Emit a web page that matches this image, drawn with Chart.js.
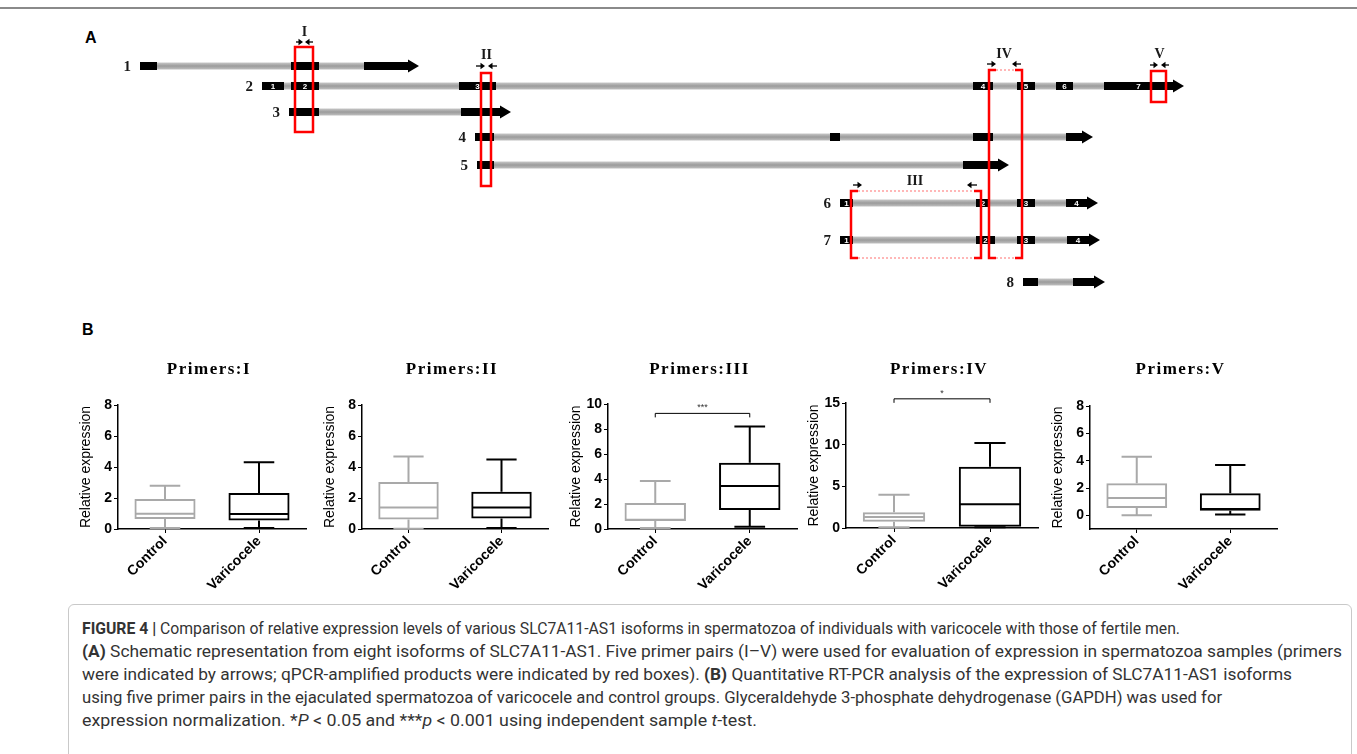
<!DOCTYPE html>
<html>
<head>
<meta charset="utf-8">
<script src="https://cdn.jsdelivr.net/npm/chart.js@4.4.1/dist/chart.umd.min.js"></script>
<style>
  html, body { margin: 0; padding: 0; background: #fff; }
  body { width: 1357px; height: 754px; position: relative; overflow: hidden; font-family: "Liberation Sans", Arial, sans-serif; }
  .abs { position: absolute; }
  #topRule { left: 0; top: 7px; width: 1357px; height: 2px; background: #8a8a8a; }
  .panelTag { font-weight: bold; font-size: 16px; color: #000; line-height: 16px; }
  #caption {
    left: 68px; top: 604px; width: 1284px; height: 170px;
    border: 1px solid #c9c9c9; border-radius: 6px; box-sizing: border-box;
    padding: 12px 0 0 13px;
    font-family: "Roboto", sans-serif;
    font-size: 16px; line-height: 23px; color: #333;
  }
  #caption .ln { display: block; width: max-content; white-space: nowrap; transform-origin: 0 50%; }
</style>
</head>
<body>
<div id="topRule" class="abs"></div>
<div class="abs panelTag" style="left:85px;top:30px;">A</div>
<div class="abs panelTag" style="left:82px;top:322px;">B</div>
<canvas id="schemeCanvas" class="abs" width="1357" height="300" style="left:0;top:0;width:1357px;height:300px;"></canvas>
<div id="caption" class="abs">
<span class="ln"><b>FIGURE 4 |</b> Comparison of relative expression levels of various SLC7A11-AS1 isoforms in spermatozoa of individuals with varicocele with those of fertile men.</span>
<span class="ln"><b>(A)</b> Schematic representation from eight isoforms of SLC7A11-AS1. Five primer pairs (I–V) were used for evaluation of expression in spermatozoa samples (primers</span>
<span class="ln">were indicated by arrows; qPCR-amplified products were indicated by red boxes). <b>(B)</b> Quantitative RT-PCR analysis of the expression of SLC7A11-AS1 isoforms</span>
<span class="ln">using five primer pairs in the ejaculated spermatozoa of varicocele and control groups. Glyceraldehyde 3-phosphate dehydrogenase (GAPDH) was used for</span>
<span class="ln">expression normalization. *<i>P</i> &lt; 0.05 and ***<i>p</i> &lt; 0.001 using independent sample <i>t</i>-test.</span>
</div>

<script>
// ---- panel A: isoforms (position along the locus, track row) ----
const isoformIds = ['1', '2', '3', '4', '5', '6', '7', '8'];
const isoformTrack = [66, 86, 112, 137, 165, 203, 240, 282];
const isoformStart = [140, 262, 289, 475, 477, 840, 840, 1023];
const isoformTail = [364, 1104, 461, 1066, 963, 1066, 1067, 1073];
const isoformTip = [419, 1184, 511, 1093, 1009, 1098, 1100, 1105];
const isoformExons = [
    [[140, 157], [291, 319]],
    [[262, 284], [291, 319], [459, 496], [973, 993], [1017, 1035], [1056, 1073]],
    [[289, 319]],
    [[475, 494], [830, 840], [973, 993]],
    [[477, 494]],
    [[840, 853], [976, 990], [1017, 1035]],
    [[840, 853], [976, 995], [1017, 1035]],
    [[1023, 1038]]
];
// exon numbers; the one past the last exon sits on the arrow tail
const exonNumbers = [[], ['1', '2', '3', '4', '5', '6', '7'], [], [], [], ['1', '2', '3', '4'], ['1', '2', '3', '4'], []];

// ---- panel A: primer pairs and amplified products ----
const primerNames = ['I', 'II', 'III', 'IV', 'V'];
const primerFrom = [295, 481, 851, 989, 1151];
const primerTo = [313, 491, 981, 1022, 1166];
const primerTop = [47, 73, 191, 70, 71];
const primerBottom = [132, 186, 258, 258, 102];
const primerDotted = [false, false, true, true, false];
const primerLabelY = [32, 55, 181, 54, 54];
const primerArrowY = [42, 66, 185, 64, 65];
const primerFwd = [[296, 303], [476, 485], [853, 862], [987, 996], [1150, 1158]];
const primerRev = [[313, 305], [497, 488], [977, 967], [1021, 1012], [1169, 1161]];

// ---- panel B: box plots (relative expression) ----
const groups = ['Control', 'Varicocele'];
const boxMin = [[0.06, 0.06], [0.02, 0.06], [0.08, 0.19], [0.08, 0.1], [0.0, 0.07]];
const boxQ1 = [[0.65, 0.55], [0.62, 0.67], [0.65, 1.52], [0.76, 0.15], [0.53, 0.34]];
const boxMedian = [[0.98, 0.96], [1.39, 1.39], [0.75, 3.44], [1.32, 2.84], [1.26, 0.46]];
const boxQ3 = [[1.94, 2.33], [3.03, 2.4], [2.08, 5.31], [1.88, 7.36], [2.35, 1.62]];
const boxMax = [[2.79, 4.3], [4.68, 4.48], [3.84, 8.21], [4.0, 10.2], [4.29, 3.68]];
const axisMin = [0, 0, 0, 0, -1];
const axisMax = [8, 8, 10, 15, 8];
const yTicks = [[0, 2, 4, 6, 8], [0, 2, 4, 6, 8], [0, 2, 4, 6, 8, 10], [0, 5, 10, 15], [0, 2, 4, 6, 8]];
const sigText = [null, null, '***', '*', null];
const sigLevel = [null, null, 9.25, 15.5, null];

// layout of the five small charts (page pixels)
const panelAxisX = [118, 362, 608, 846, 1090];
const panelRight = [306, 548, 797, 1038, 1277];
const panelTop = [405, 405, 404, 403, 406];
const panelBottom = [529, 529, 529, 528, 529];
const boxColors = ['#a9a9a9', '#000000'];

// caption line widths in the figure
const captionWidths = [1098, 1260, 1210, 1140, 675];

// ---------- caption: squeeze each line to the printed width ----------
document.querySelectorAll('#caption .ln').forEach((el, i) => {
    const w = el.getBoundingClientRect().width;
    el.style.transform = 'scaleX(' + (captionWidths[i] / w).toFixed(4) + ')';
});

// ---------- panel A ----------
function introColor(track) {
    return function(ctx) {
        const chart = ctx.chart;
        if (!chart.chartArea) return '#a4a4a4';
        const py = chart.scales.y.getPixelForValue(track);
        const g = chart.ctx.createLinearGradient(0, py - 3.5, 0, py + 3.5);
        g.addColorStop(0, '#c8c8c8');
        g.addColorStop(0.5, '#9b9b9b');
        g.addColorStop(1, '#c0c0c0');
        return g;
    };
}

function segment(x0, x1, y, color, width, order) {
    return {
        data: [{ x: x0, y: y }, { x: x1, y: y }],
        showLine: true, pointRadius: 0, borderCapStyle: 'butt',
        borderColor: color, borderWidth: width, clip: false, fill: false,
        order: order
    };
}

const headLen = 11;
const schemeSets = [];
isoformIds.forEach((id, i) => {
    // introns are drawn first (higher order = further back)
    schemeSets.push(segment(isoformStart[i], isoformTail[i], isoformTrack[i], introColor(isoformTrack[i]), 7, 2));
});
isoformIds.forEach((id, i) => {
    isoformExons[i].forEach(e => schemeSets.push(segment(e[0], e[1], isoformTrack[i], '#000', 8, 1)));
    schemeSets.push(segment(isoformTail[i], isoformTip[i] - headLen, isoformTrack[i], '#000', 8, 1));
});

const schemeDecor = {
    id: 'schemeDecor',
    afterDatasetsDraw(chart) {
        const { ctx, scales: { x, y } } = chart;
        ctx.save();
        // arrow heads, row numbers, exon numbers
        isoformIds.forEach((id, i) => {
            const py = y.getPixelForValue(isoformTrack[i]);
            const tip = x.getPixelForValue(isoformTip[i]);
            const base = x.getPixelForValue(isoformTip[i] - headLen);
            ctx.fillStyle = '#000';
            ctx.beginPath();
            ctx.moveTo(base, py - 6.5);
            ctx.lineTo(tip, py);
            ctx.lineTo(base, py + 6.5);
            ctx.closePath();
            ctx.fill();

            ctx.font = 'bold 15px "Liberation Serif", serif';
            ctx.fillStyle = '#1a1a1a';
            ctx.textAlign = 'right';
            ctx.textBaseline = 'middle';
            ctx.fillText(id, x.getPixelForValue(isoformStart[i]) - 9, py + 1);

            ctx.font = 'bold 8px "Liberation Sans", sans-serif';
            ctx.fillStyle = '#fff';
            ctx.textAlign = 'center';
            exonNumbers[i].forEach((n, k) => {
                const e = k < isoformExons[i].length ? isoformExons[i][k] : [isoformTail[i], isoformTip[i] - headLen];
                ctx.fillText(n, x.getPixelForValue((e[0] + e[1]) / 2), py + 0.5);
            });
        });

        // primer boxes, labels and arrows
        primerNames.forEach((name, p) => {
            const l = x.getPixelForValue(primerFrom[p]);
            const r = x.getPixelForValue(primerTo[p]);
            const t = y.getPixelForValue(primerTop[p]);
            const b = y.getPixelForValue(primerBottom[p]);
            ctx.strokeStyle = '#ff0000';
            ctx.lineWidth = 2.5;
            if (!primerDotted[p]) {
                ctx.strokeRect(l, t, r - l, b - t);
            } else {
                const c = 7;
                ctx.beginPath();
                ctx.moveTo(l + c, t); ctx.lineTo(l, t); ctx.lineTo(l, b); ctx.lineTo(l + c, b);
                ctx.moveTo(r - c, t); ctx.lineTo(r, t); ctx.lineTo(r, b); ctx.lineTo(r - c, b);
                ctx.stroke();
                ctx.save();
                ctx.strokeStyle = '#ff7070';
                ctx.lineWidth = 1.2;
                ctx.setLineDash([2, 2]);
                ctx.beginPath();
                ctx.moveTo(l + c, t); ctx.lineTo(r - c, t);
                ctx.moveTo(l + c, b); ctx.lineTo(r - c, b);
                ctx.stroke();
                ctx.restore();
            }

            ctx.font = 'bold 14px "Liberation Serif", serif';
            ctx.fillStyle = '#1a1a1a';
            ctx.textAlign = 'center';
            ctx.textBaseline = 'middle';
            const mid = (primerFwd[p][0] + primerRev[p][0]) / 2;
            ctx.fillText(name, x.getPixelForValue(mid), y.getPixelForValue(primerLabelY[p]));

            const ay = y.getPixelForValue(primerArrowY[p]);
            [primerFwd[p], primerRev[p]].forEach(a => {
                const x0 = x.getPixelForValue(a[0]);
                const x1 = x.getPixelForValue(a[1]);
                const dir = x1 > x0 ? 1 : -1;
                ctx.strokeStyle = '#000';
                ctx.fillStyle = '#000';
                ctx.lineWidth = 1.3;
                ctx.beginPath();
                ctx.moveTo(x0, ay); ctx.lineTo(x1 - dir * 3, ay);
                ctx.stroke();
                ctx.beginPath();
                ctx.moveTo(x1, ay);
                ctx.lineTo(x1 - dir * 4.5, ay - 3.2);
                ctx.lineTo(x1 - dir * 4.5, ay + 3.2);
                ctx.closePath();
                ctx.fill();
            });
        });
        ctx.restore();
    }
};

new Chart(document.getElementById('schemeCanvas'), {
    type: 'scatter',
    data: { datasets: schemeSets },
    options: {
        responsive: false, animation: false, events: [],
        layout: { padding: 0 },
        plugins: { legend: { display: false }, tooltip: { enabled: false } },
        scales: {
            x: { type: 'linear', min: 0, max: 1357, display: false },
            y: { type: 'linear', min: 0, max: 300, reverse: true, display: false }
        }
    },
    plugins: [schemeDecor]
});

// ---------- panel B ----------
const boxDecor = {
    id: 'boxDecor',
    afterDatasetsDraw(chart, args, opts) {
        const p = opts.panel;
        const { ctx, scales: { x, y } } = chart;
        const meta = chart.getDatasetMeta(0);
        ctx.save();
        groups.forEach((g, i) => {
            const bar = meta.data[i];
            const cx = bar.x;
            const half = bar.width / 2;
            const pMin = y.getPixelForValue(boxMin[p][i]);
            const pQ1 = y.getPixelForValue(boxQ1[p][i]);
            const pMed = y.getPixelForValue(boxMedian[p][i]);
            const pQ3 = y.getPixelForValue(boxQ3[p][i]);
            const pMax = y.getPixelForValue(boxMax[p][i]);
            ctx.strokeStyle = boxColors[i];
            ctx.lineWidth = 2;
            ctx.beginPath();
            ctx.moveTo(cx, pQ1); ctx.lineTo(cx, pMin);
            ctx.moveTo(cx - half / 2, pMin); ctx.lineTo(cx + half / 2, pMin);
            ctx.moveTo(cx, pQ3); ctx.lineTo(cx, pMax);
            ctx.moveTo(cx - half / 2, pMax); ctx.lineTo(cx + half / 2, pMax);
            ctx.moveTo(cx - half + 1, pMed); ctx.lineTo(cx + half - 1, pMed);
            ctx.stroke();
        });
        if (sigText[p]) {
            const x0 = x.getPixelForValue(0);
            const x1 = x.getPixelForValue(1);
            const py = y.getPixelForValue(sigLevel[p]);
            ctx.strokeStyle = '#000';
            ctx.lineWidth = 1;
            ctx.beginPath();
            ctx.moveTo(x0, py + 4); ctx.lineTo(x0, py); ctx.lineTo(x1, py); ctx.lineTo(x1, py + 4);
            ctx.stroke();
            ctx.fillStyle = '#333';
            ctx.font = '9px "Liberation Sans", sans-serif';
            ctx.textAlign = 'center';
            ctx.textBaseline = 'bottom';
            ctx.fillText(sigText[p], (x0 + x1) / 2, py - 1);
        }
        ctx.restore();
    },
    afterDraw(chart, args, opts) {
        const { ctx, chartArea } = chart;
        ctx.save();
        ctx.font = 'bold 17px "Liberation Serif", serif';
        ctx.letterSpacing = '1.5px';
        ctx.fillStyle = '#000';
        ctx.textAlign = 'center';
        ctx.textBaseline = 'middle';
        ctx.fillText('Primers:' + primerNames[opts.panel], (chartArea.left + chartArea.right) / 2 - 3, 30);
        ctx.restore();
    }
};

primerNames.forEach((name, p) => {
    const leftW = 52;
    const w = panelRight[p] - panelAxisX[p] + leftW + 12;
    const h = panelBottom[p] - 340 + 62;
    const cv = document.createElement('canvas');
    cv.width = w;
    cv.height = h;
    cv.className = 'abs';
    cv.style.left = (panelAxisX[p] - leftW) + 'px';
    cv.style.top = '340px';
    cv.style.width = w + 'px';
    cv.style.height = h + 'px';
    document.body.appendChild(cv);

    new Chart(cv, {
        type: 'bar',
        data: {
            labels: groups,
            datasets: [{
                data: groups.map((g, i) => [boxQ1[p][i], boxQ3[p][i]]),
                backgroundColor: 'rgba(255,255,255,0)',
                borderColor: boxColors,
                borderWidth: 2,
                borderSkipped: false,
                categoryPercentage: 0.65,
                barPercentage: 1
            }]
        },
        options: {
            responsive: false, animation: false, events: [],
            layout: { padding: { top: panelTop[p] - 340, right: 12, left: 0, bottom: 0 } },
            plugins: { legend: { display: false }, tooltip: { enabled: false }, boxDecor: { panel: p } },
            scales: {
                x: {
                    afterFit: s => { s.height = 62; },
                    grid: { display: true, drawOnChartArea: false, drawTicks: true, tickLength: 4, color: '#000', offset: false },
                    border: { display: true, color: '#000', width: 1.5 },
                    ticks: { color: '#000', font: { family: 'Liberation Sans', size: 14, weight: 'bold' }, maxRotation: 45, minRotation: 45, padding: 0 }
                },
                y: {
                    min: axisMin[p], max: axisMax[p],
                    afterBuildTicks: s => { s.ticks = yTicks[p].map(v => ({ value: v })); },
                    afterFit: s => { s.width = leftW; },
                    grid: { display: true, drawOnChartArea: false, drawTicks: true, tickLength: 4, color: '#000' },
                    border: { display: true, color: '#000', width: 1.5 },
                    ticks: { color: '#000', font: { family: 'Liberation Sans', size: 14, weight: 'bold' }, padding: 2 },
                    title: { display: true, text: 'Relative expression', color: '#000', font: { family: 'Liberation Sans', size: 14 }, padding: { top: 12, bottom: 0 } }
                }
            }
        },
        plugins: [boxDecor]
    });
});
</script>
</body>
</html>
